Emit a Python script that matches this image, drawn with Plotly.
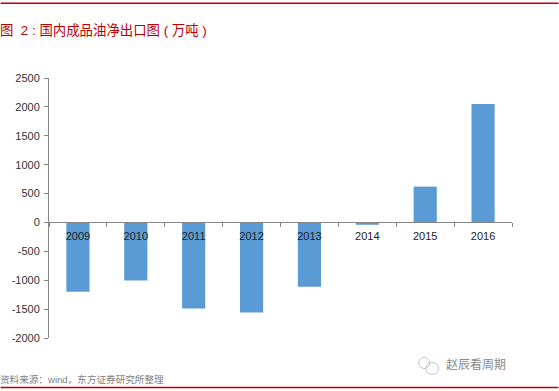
import plotly.graph_objects as go

years = ["2009", "2010", "2011", "2012", "2013", "2014", "2015", "2016"]
net_exports = [-1200, -1005, -1490, -1560, -1115, -40, 620, 2050]
y_ticks = [2500, 2000, 1500, 1000, 500, 0, -500, -1000, -1500, -2000]

W, H = 559, 391
L, R, T, B = 48.5, 512.5, 78, 338.5
FONT = "Liberation Sans, Noto Sans CJK SC, sans-serif"
CJK = "Liberation Sans, Noto Sans CJK SC, sans-serif"


def px(x):
    return (x - L) / (R - L)


def py(y):
    return (B - y) / (B - T)


fig = go.Figure(go.Bar(x=years, y=net_exports, width=0.4, marker_color="#5B9BD5", marker_line_width=0))

fig.update_layout(
    width=W, height=H, autosize=False,
    margin=dict(l=L, r=W - R, t=T, b=H - B, pad=0),
    paper_bgcolor="white", plot_bgcolor="white", showlegend=False,
    font=dict(family=FONT, size=11, color="#333333"),
    xaxis=dict(
        type="category", anchor="free", position=2000 / 4500, tickson="boundaries",
        showgrid=False, zeroline=False, showline=True, linecolor="#868686", linewidth=1,
        ticks="outside", ticklen=4, tickcolor="#868686", tickfont=dict(size=11, color="#222222"),
        range=[-0.5, 7.5], ticklabelstandoff=3,
    ),
    yaxis=dict(
        range=[-2000, 2500], tickvals=y_ticks, ticktext=[str(v) for v in y_ticks],
        showgrid=False, zeroline=False, showline=True, linecolor="#868686", linewidth=1,
        ticks="outside", ticklen=4, tickcolor="#868686", tickfont=dict(size=11, color="#333333"),
        ticklabelstandoff=2,
    ),
    shapes=[
        dict(type="line", xref="paper", yref="paper", x0=px(0), x1=px(559), y0=py(3), y1=py(3),
             line=dict(color="#C00000", width=1.5)),
        dict(type="line", xref="paper", yref="paper", x0=px(0), x1=px(559), y0=py(388), y1=py(388),
             line=dict(color="#C00000", width=1.5)),
        dict(type="circle", xref="paper", yref="paper", x0=px(419), x1=px(430), y0=py(369), y1=py(358),
             line=dict(color="#C4C4C4", width=1)),
        dict(type="circle", xref="paper", yref="paper", x0=px(426), x1=px(439), y0=py(375), y1=py(363),
             line=dict(color="#C4C4C4", width=1)),
    ],
    annotations=[
        dict(text="图  2 : 国内成品油净出口图 ( 万吨 )", x=px(-3), y=py(30), xref="paper", yref="paper",
             xanchor="left", yanchor="middle", showarrow=False,
             font=dict(size=13.4, color="#C00000", family=CJK)),
        dict(text="资料来源：wind，东方证券研究所整理", x=px(-3), y=py(380), xref="paper", yref="paper",
             xanchor="left", yanchor="middle", showarrow=False,
             font=dict(size=9.6, color="#7F7F7F", family=CJK)),
        dict(text="赵辰看周期", x=px(444), y=py(366), xref="paper", yref="paper",
             xanchor="left", yanchor="middle", showarrow=False,
             font=dict(size=12, color="#8A8A8A", family=CJK)),
    ],
)

fig.write_html("out.html", post_script="document.body.style.margin='0';", config={"displayModeBar": False})
